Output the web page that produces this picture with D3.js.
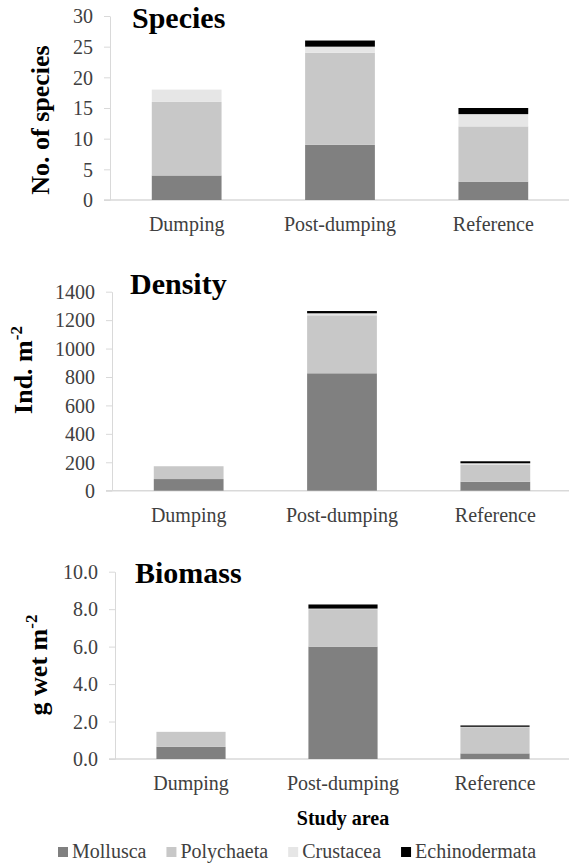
<!DOCTYPE html>
<html>
<head>
<meta charset="utf-8">
<script src="https://cdn.jsdelivr.net/npm/d3@7/dist/d3.min.js"></script>
<style>
  html, body { margin: 0; padding: 0; background: #fff; }
  svg { display: block; }
  svg text { font-family: "Liberation Serif", "Times New Roman", "DejaVu Serif", serif; }
</style>
</head>
<body>
<svg id="chart" width="569" height="866"></svg>
<script>
// ---------- data ----------
const categories = ["Dumping", "Post-dumping", "Reference"];
const groups = ["Mollusca", "Polychaeta", "Crustacea", "Echinodermata"];

const speciesMollusca      = [4, 9, 3];
const speciesPolychaeta    = [12, 15, 9];
const speciesCrustacea     = [2, 1, 2];
const speciesEchinodermata = [0, 1, 1];

const densityMollusca      = [82, 826, 63];
const densityPolychaeta    = [90, 408, 118];
const densityCrustacea     = [0, 14, 12];
const densityEchinodermata = [0, 16, 14];

const biomassMollusca      = [0.65, 6.0, 0.30];
const biomassPolychaeta    = [0.80, 2.0, 1.40];
const biomassCrustacea     = [0, 0.03, 0.02];
const biomassEchinodermata = [0, 0.22, 0.07];

const speciesTicks = [0, 5, 10, 15, 20, 25, 30];
const densityTicks = [0, 200, 400, 600, 800, 1000, 1200, 1400];
const biomassTicks = [0, 2, 4, 6, 8, 10];

// ---------- styles ----------
const colors = { Mollusca: "#808080", Polychaeta: "#c8c8c8", Crustacea: "#e6e6e6", Echinodermata: "#000000" };
const axisColor = "#d9d9d9";
const labelColor = "#404040";

function rows(m, p, c, e) {
  return categories.map((cat, i) => ({
    category: cat, Mollusca: m[i], Polychaeta: p[i], Crustacea: c[i], Echinodermata: e[i]
  }));
}

const panels = [
  { title: "Species", yTitle: ["No. of species", null],
    data: rows(speciesMollusca, speciesPolychaeta, speciesCrustacea, speciesEchinodermata),
    ticks: speciesTicks, fmt: d3.format("d"),
    xRange: [110, 570], yRange: [200, 16], titlePos: [132, 28], yTitlePos: [49, 120], xLabelY: 231 },
  { title: "Density", yTitle: ["Ind. m", "-2"],
    data: rows(densityMollusca, densityPolychaeta, densityCrustacea, densityEchinodermata),
    ticks: densityTicks, fmt: d3.format("d"),
    xRange: [112, 572], yRange: [490.7, 291.7], titlePos: [130, 294], yTitlePos: [32, 370], xLabelY: 522 },
  { title: "Biomass", yTitle: ["g wet m", "-2"],
    data: rows(biomassMollusca, biomassPolychaeta, biomassCrustacea, biomassEchinodermata),
    ticks: biomassTicks, fmt: d3.format(".1f"),
    xRange: [115, 571], yRange: [759, 571.7], titlePos: [135, 583], yTitlePos: [47, 665], xLabelY: 790 }
];

const svg = d3.select("#chart");
const stack = d3.stack().keys(groups);

panels.forEach(p => {
  const g = svg.append("g");
  const x = d3.scaleBand().domain(categories).range(p.xRange).paddingInner(0.545).paddingOuter(0.2725);
  const y = d3.scaleLinear().domain([p.ticks[0], p.ticks[p.ticks.length - 1]]).range(p.yRange);

  // y axis
  const yAxis = d3.axisLeft(y).tickValues(p.ticks).tickFormat(p.fmt).tickSizeInner(6).tickSizeOuter(0).tickPadding(11);
  const ya = g.append("g").attr("transform", `translate(${p.xRange[0]},0)`).call(yAxis);
  ya.attr("font-family", null).attr("font-size", null);
  ya.select(".domain").attr("stroke", axisColor);
  ya.selectAll(".tick line").attr("stroke", axisColor);
  ya.selectAll(".tick text").style("font-size", "20px").attr("fill", labelColor).attr("dy", "0.34em");

  // baseline
  g.append("line")
    .attr("x1", p.xRange[0] - 6).attr("x2", 569)
    .attr("y1", y(0)).attr("y2", y(0))
    .attr("stroke", axisColor).attr("stroke-width", 1.5);

  // bars
  const series = stack(p.data);
  g.selectAll("g.series").data(series).enter().append("g")
    .attr("fill", s => colors[s.key])
    .selectAll("rect").data(s => s).enter().append("rect")
    .attr("x", d => x(d.data.category))
    .attr("width", x.bandwidth())
    .attr("y", d => y(d[1]))
    .attr("height", d => Math.max(0, y(d[0]) - y(d[1])));

  // x labels
  g.selectAll("text.xl").data(categories).enter().append("text")
    .attr("x", d => x(d) + x.bandwidth() / 2)
    .attr("y", p.xLabelY)
    .attr("text-anchor", "middle")
    .style("font-size", "20px").attr("fill", labelColor)
    .text(d => d);

  // panel title
  g.append("text")
    .attr("x", p.titlePos[0]).attr("y", p.titlePos[1])
    .style("font-size", "30px").style("font-weight", "bold").attr("fill", "#000")
    .text(p.title);

  // y title
  const yt = g.append("text")
    .attr("transform", `translate(${p.yTitlePos[0]},${p.yTitlePos[1]}) rotate(-90)`)
    .attr("text-anchor", "middle")
    .style("font-size", "26px").style("font-weight", "bold").attr("fill", "#000");
  yt.append("tspan").text(p.yTitle[0]);
  if (p.yTitle[1]) {
    yt.append("tspan").style("font-size", "17px").attr("dy", -10).text(p.yTitle[1]);
  }
});

// x axis title
svg.append("text")
  .attr("x", 343).attr("y", 825)
  .attr("text-anchor", "middle")
  .style("font-size", "20px").style("font-weight", "bold").attr("fill", "#000")
  .text("Study area");

// legend
const legend = svg.append("g");
let lx = 58;
groups.forEach(k => {
  legend.append("rect").attr("x", lx).attr("y", 847).attr("width", 10).attr("height", 10).attr("fill", colors[k]);
  const t = legend.append("text")
    .attr("x", lx + 14).attr("y", 858)
    .style("font-size", "20px").attr("fill", labelColor)
    .text(k);
  lx += 14 + t.node().getComputedTextLength() + 20;
});
</script>
</body>
</html>
